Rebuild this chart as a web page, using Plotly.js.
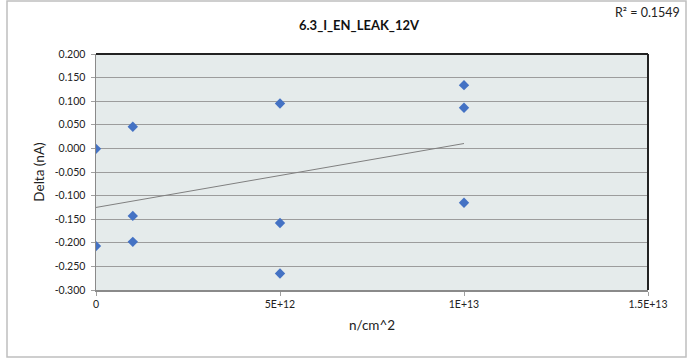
<!DOCTYPE html>
<html><head><meta charset="utf-8">
<script src="https://cdn.plot.ly/plotly-3.0.1.min.js"></script>
<style>html,body{margin:0;padding:0;background:#fff}#chart{width:688px;height:360px}</style>
</head><body><div id="chart"></div>
<script>
const chartTitle = '6.3_I_EN_LEAK_12V';
const fluence = [0, 0, 1e12, 1e12, 1e12, 5e12, 5e12, 5e12, 1e13, 1e13, 1e13];
const delta = [-0.001, -0.207, 0.046, -0.143, -0.198, 0.095, -0.158, -0.265, 0.134, 0.086, -0.115];
const yTickVals = [0.2, 0.15, 0.1, 0.05, 0, -0.05, -0.1, -0.15, -0.2, -0.25, -0.3];
const yTickText = ['0.200', '0.150', '0.100', '0.050', '0.000', '-0.050', '-0.100', '-0.150', '-0.200', '-0.250', '-0.300'];
const xTickVals = [0, 5e12, 1e13, 1.5e13];
const xTickText = ['0', '5E+12', '1E+13', '1.5E+13'];
const r2Text = 'R² = 0.1549';

// least-squares trendline from data
const n = fluence.length;
const mx = fluence.reduce((a, b) => a + b, 0) / n;
const my = delta.reduce((a, b) => a + b, 0) / n;
let sxy = 0, sxx = 0;
for (let i = 0; i < n; i++) { sxy += (fluence[i] - mx) * (delta[i] - my); sxx += (fluence[i] - mx) ** 2; }
const slope = sxy / sxx, icpt = my - slope * mx;
const xMin = Math.min(...fluence), xMax = Math.max(...fluence);
const trendX = [xMin, xMax];
const trendY = trendX.map(x => icpt + slope * x);

const FONT = 'Lato, "Open Sans", sans-serif';
const L = 96, R = 648, T = 54, B = 290;
const px = v => (v - L) / (R - L);
const py = v => (B - v) / (B - T);

const data = [
  { x: trendX, y: trendY, type: 'scatter', mode: 'lines', line: { color: '#808080', width: 1 }, hoverinfo: 'skip', showlegend: false },
  { x: fluence, y: delta, type: 'scatter', mode: 'markers', marker: { symbol: 'diamond', size: 8, color: '#4472C4' }, showlegend: false }
];

const layout = {
  width: 688, height: 360,
  margin: { l: L, r: 688 - R, t: T, b: 360 - B },
  paper_bgcolor: '#ffffff', plot_bgcolor: '#E5EBEB',
  font: { family: FONT, color: '#222', size: 10.5 },
  title: { text: '<b>' + chartTitle + '</b>', font: { family: FONT, size: 13, color: '#111' }, x: 359 / 688, xanchor: 'center', y: 1 - 25 / 360, yanchor: 'middle' },
  xaxis: {
    range: [0, 1.5e13], tickvals: xTickVals, ticktext: xTickText, showgrid: false, zeroline: false,
    showline: true, linecolor: '#8a8a8a', linewidth: 1.5, ticks: 'outside', ticklen: 4, tickcolor: '#a0a0a0',
    tickfont: { family: FONT, size: 10.5, color: '#222' },
    title: { text: 'n/cm^2', font: { family: FONT, size: 13.5, color: '#222' }, standoff: 11 }
  },
  yaxis: {
    range: [-0.3, 0.2], tickvals: yTickVals, ticktext: yTickText, showgrid: true, gridcolor: '#9c9c9c', gridwidth: 1, zeroline: false,
    showline: true, linecolor: '#8a8a8a', linewidth: 1.5, ticks: 'outside', ticklen: 4, tickcolor: '#a0a0a0',
    ticklabelstandoff: 3,
    tickfont: { family: FONT, size: 10.5, color: '#222' },
    title: { text: 'Delta (nA)', font: { family: FONT, size: 13.5, color: '#222' }, standoff: 7 }
  },
  shapes: [
    { type: 'line', xref: 'paper', yref: 'paper', x0: 0, x1: 1, y0: 1, y1: 1, line: { color: '#222', width: 2 } },
    { type: 'line', xref: 'paper', yref: 'paper', x0: 1, x1: 1, y0: 0, y1: 1, line: { color: '#222', width: 2 } },
    { type: 'rect', xref: 'paper', yref: 'paper', x0: px(7), x1: px(686), y0: py(357), y1: py(1), line: { color: '#bfbfbf', width: 1.5 }, layer: 'below' }
  ],
  annotations: [
    { text: r2Text, xref: 'paper', yref: 'paper', x: px(682), y: py(12), xanchor: 'right', yanchor: 'middle', showarrow: false, font: { family: FONT, size: 12.5, color: '#222' } }
  ]
};

Plotly.newPlot('chart', data, layout, { displayModeBar: false, staticPlot: true });
</script>
</body></html>
